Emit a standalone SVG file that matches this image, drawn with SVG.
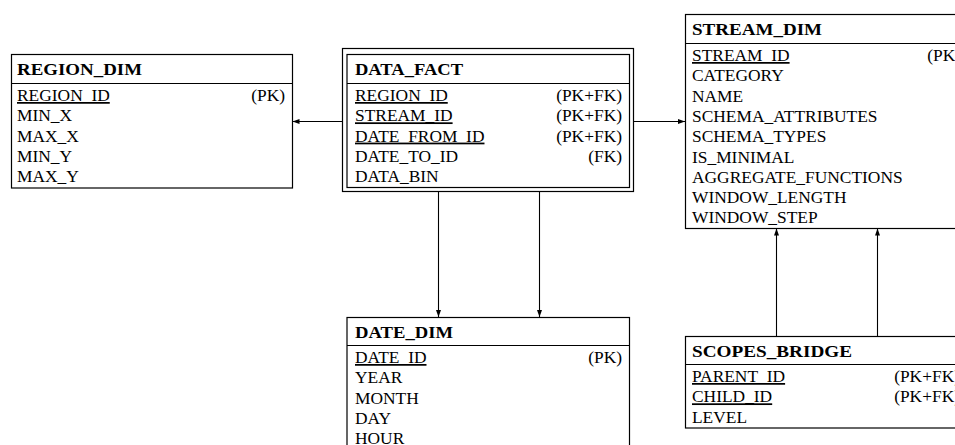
<svg xmlns="http://www.w3.org/2000/svg" width="955" height="445" viewBox="0 0 955 445">
  <style>
    .box { fill: #fff; stroke: #000; stroke-width: 1.2; }
    .sep { stroke: #000; stroke-width: 1.2; }
    .title { font-family: "Liberation Serif", "DejaVu Serif", serif; font-weight: bold; font-size: 17.4px; fill: #000; }
    .attr { font-family: "Liberation Serif", "DejaVu Serif", serif; font-size: 17.4px; fill: #000; }
    .key { text-decoration: underline; }
    .tag { text-anchor: end; }
    .link { fill: none; stroke: #000; stroke-width: 1.1; marker-end: url(#arrow); }
  </style>
  <defs>
    <marker id="arrow" markerUnits="userSpaceOnUse" markerWidth="8" markerHeight="6" refX="7" refY="2.5" orient="auto">
      <path d="M0,0 L7,2.5 L0,5 Z" fill="#000"/>
    </marker>
  </defs>
  <rect width="955" height="445" fill="#fff"/>

  <!-- relationships -->
  <g id="connectors">
    <line class="link" x1="342.5" y1="121.5" x2="292.5" y2="121.5"/>
    <line class="link" x1="633.5" y1="121.5" x2="685" y2="121.5"/>
    <line class="link" x1="438.5" y1="191.5" x2="438.5" y2="317"/>
    <line class="link" x1="539.5" y1="191.5" x2="539.5" y2="317"/>
    <line class="link" x1="776.5" y1="336" x2="776.5" y2="228.5"/>
    <line class="link" x1="877.5" y1="336" x2="877.5" y2="228.5"/>
  </g>

  <g id="region_dim">
    <rect class="box" x="11.5" y="54.5" width="281" height="133.5"/>
    <line class="sep" x1="11.5" y1="83.5" x2="292.5" y2="83.5"/>
    <text class="title" x="17" y="75" textLength="125" lengthAdjust="spacingAndGlyphs">REGION_DIM</text>
    <text class="attr key" x="17" y="101">REGION_ID</text>
    <text class="attr tag" x="285" y="101">(PK)</text>
    <text class="attr" x="17" y="121.3">MIN_X</text>
    <text class="attr" x="17" y="141.6">MAX_X</text>
    <text class="attr" x="17" y="161.9">MIN_Y</text>
    <text class="attr" x="17" y="182.2">MAX_Y</text>
  </g>

  <g id="data_fact">
    <rect class="box" x="342.5" y="48.5" width="291" height="143"/>
    <rect class="box" x="347" y="54.5" width="282.5" height="133"/>
    <line class="sep" x1="347" y1="83.5" x2="629.5" y2="83.5"/>
    <text class="title" x="355" y="75" textLength="108" lengthAdjust="spacingAndGlyphs">DATA_FACT</text>
    <text class="attr key" x="355" y="101">REGION_ID</text>
    <text class="attr tag" x="622" y="101">(PK+FK)</text>
    <text class="attr key" x="355" y="121.3">STREAM_ID</text>
    <text class="attr tag" x="622" y="121.3">(PK+FK)</text>
    <text class="attr key" x="355" y="141.6">DATE_FROM_ID</text>
    <text class="attr tag" x="622" y="141.6">(PK+FK)</text>
    <text class="attr" x="355" y="161.9">DATE_TO_ID</text>
    <text class="attr tag" x="622" y="161.9">(FK)</text>
    <text class="attr" x="355" y="182.2">DATA_BIN</text>
  </g>

  <g id="stream_dim">
    <rect class="box" x="685.5" y="14.5" width="282" height="214"/>
    <line class="sep" x1="685.5" y1="43.5" x2="967.5" y2="43.5"/>
    <text class="title" x="692" y="35" textLength="130" lengthAdjust="spacingAndGlyphs">STREAM_DIM</text>
    <text class="attr key" x="692" y="61">STREAM_ID</text>
    <text class="attr tag" x="961" y="61">(PK)</text>
    <text class="attr" x="692" y="81.3">CATEGORY</text>
    <text class="attr" x="692" y="101.6">NAME</text>
    <text class="attr" x="692" y="121.9">SCHEMA_ATTRIBUTES</text>
    <text class="attr" x="692" y="142.2">SCHEMA_TYPES</text>
    <text class="attr" x="692" y="162.5">IS_MINIMAL</text>
    <text class="attr" x="692" y="182.8">AGGREGATE_FUNCTIONS</text>
    <text class="attr" x="692" y="203.1">WINDOW_LENGTH</text>
    <text class="attr" x="692" y="223.4">WINDOW_STEP</text>
  </g>

  <g id="date_dim">
    <rect class="box" x="347" y="317.5" width="282.5" height="140"/>
    <line class="sep" x1="347" y1="345.5" x2="629.5" y2="345.5"/>
    <text class="title" x="355" y="338" textLength="98" lengthAdjust="spacingAndGlyphs">DATE_DIM</text>
    <text class="attr key" x="355" y="363">DATE_ID</text>
    <text class="attr tag" x="622" y="363">(PK)</text>
    <text class="attr" x="355" y="383.3">YEAR</text>
    <text class="attr" x="355" y="403.6">MONTH</text>
    <text class="attr" x="355" y="423.9">DAY</text>
    <text class="attr" x="355" y="444.2">HOUR</text>
  </g>

  <g id="scopes_bridge">
    <rect class="box" x="685.5" y="336.5" width="282" height="91.5"/>
    <line class="sep" x1="685.5" y1="364.5" x2="967.5" y2="364.5"/>
    <text class="title" x="692" y="357" textLength="160" lengthAdjust="spacingAndGlyphs">SCOPES_BRIDGE</text>
    <text class="attr key" x="692" y="382">PARENT_ID</text>
    <text class="attr tag" x="960" y="382">(PK+FK)</text>
    <text class="attr key" x="692" y="402.3">CHILD_ID</text>
    <text class="attr tag" x="960" y="402.3">(PK+FK)</text>
    <text class="attr" x="692" y="422.6">LEVEL</text>
  </g>
</svg>
